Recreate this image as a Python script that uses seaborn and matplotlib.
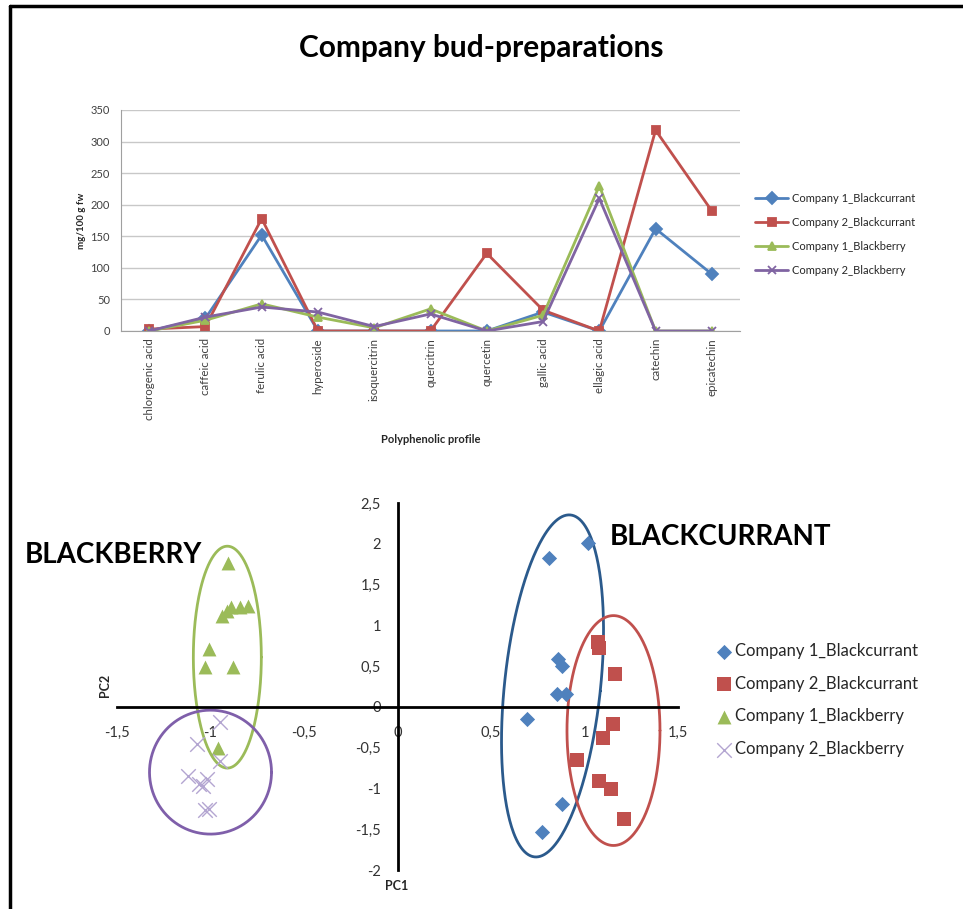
"""
Company bud-preparations: polyphenolic profile + PCA score plot
"""

import numpy as np
import pandas as pd
import matplotlib.pyplot as plt
import seaborn as sns
from matplotlib.lines import Line2D

sns.set_style("white")
plt.rcParams["font.family"] = ["Lato", "DejaVu Sans"]

# ============================================================================
# DATA
# ============================================================================
compounds = ["chlorogenic acid", "caffeic acid", "ferulic acid", "hyperoside",
             "isoquercitrin", "quercitrin", "quercetin", "gallic acid",
             "ellagic acid", "catechin", "epicatechin"]
series = ["Company 1_Blackcurrant", "Company 2_Blackcurrant",
          "Company 1_Blackberry", "Company 2_Blackberry"]

c1_blackcurrant = [0, 20, 152, 0, 0, 0, 0, 30, 0, 162, 90]
c2_blackcurrant = [3, 7, 178, 0, 0, 0, 123, 33, 0, 318, 190]
c1_blackberry = [0, 17, 43, 22, 5, 35, 0, 25, 230, 0, 0]
c2_blackberry = [0, 22, 38, 30, 7, 27, 0, 15, 210, 0, 0]

# PCA scores (PC1, PC2)
pc1_c1_bc = [1.02, 0.81, 0.86, 0.88, 0.855, 0.90, 0.695, 0.88, 0.775]
pc2_c1_bc = [2.01, 1.83, 0.59, 0.50, 0.16, 0.16, -0.15, -1.19, -1.54]
pc1_c2_bc = [1.07, 1.075, 1.165, 1.15, 1.10, 0.96, 1.08, 1.14, 1.21]
pc2_c2_bc = [0.79, 0.72, 0.40, -0.21, -0.38, -0.65, -0.91, -1.01, -1.37]
pc1_c1_bb = [-0.904, -0.94, -0.91, -0.89, -0.84, -0.80, -1.01, -1.03, -0.88, -0.96]
pc2_c1_bb = [1.76, 1.12, 1.18, 1.22, 1.23, 1.24, 0.71, 0.49, 0.49, -0.51]
pc1_c2_bb = [-0.95, -1.07, -0.95, -1.12, -1.06, -1.02, -1.04, -1.03, -1.01]
pc2_c2_bb = [-0.19, -0.45, -0.66, -0.85, -0.94, -0.88, -0.97, -1.27, -1.25]

colors = ["#4F81BD", "#C0504D", "#9BBB59", "#8064A2"]

fig = plt.figure(figsize=(9.63, 9.09), dpi=100)

# frame lines (left + top)
fig.add_artist(Line2D([10 / 963, 10 / 963], [0, 1 - 6 / 909], color="black", lw=2.5))
fig.add_artist(Line2D([10 / 963, 1], [1 - 6 / 909, 1 - 6 / 909], color="black", lw=2.5))

fig.text(481 / 963, 1 - 48 / 909, "Company bud-preparations", ha="center",
         va="center", fontsize=21.5, fontweight="bold", color="black")

# ============================================================================
# 1. LINE CHART
# ============================================================================
ax1 = fig.add_axes([121 / 963, 1 - 331 / 909, 619 / 963, 221 / 909])

df = pd.DataFrame({
    "pos": list(range(len(compounds))) * 4,
    "value": c1_blackcurrant + c2_blackcurrant + c1_blackberry + c2_blackberry,
    "series": np.repeat(series, len(compounds)),
})
line_markers = ["D", "s", "^", "x"]
for name, c, m in zip(series, colors, line_markers):
    sub = df[df["series"] == name]
    sns.lineplot(data=sub, x="pos", y="value", color=c, marker=m,
                 markersize=6, linewidth=2, markeredgewidth=1.3,
                 markeredgecolor=c, sort=False, label=name, ax=ax1)

ax1.set_xlim(-0.5, len(compounds) - 0.5)
ax1.set_ylim(0, 350)
ax1.set_yticks(range(0, 351, 50))
ax1.set_xticks(range(len(compounds)))
ax1.set_xticklabels(compounds, rotation=90, fontsize=8.3, color="#404040")
ax1.tick_params(axis="y", labelsize=8, colors="#404040", length=3, pad=5)
ax1.tick_params(axis="x", length=0, pad=5)
ax1.grid(axis="y", color="#C8C8C8", lw=1)
for s in ["top", "right"]:
    ax1.spines[s].set_visible(False)
for s in ["left", "bottom"]:
    ax1.spines[s].set_color("#A0A0A0")
ax1.set_xlabel("Polyphenolic profile", fontsize=8, fontweight="bold", labelpad=10)
ax1.set_ylabel("mg/100 g fw", fontsize=7, fontweight="bold", labelpad=3)
ax1.legend(loc="upper left", bbox_to_anchor=(745 / 963, 1 - 183 / 909),
           bbox_transform=fig.transFigure, frameon=False, fontsize=8,
           handlelength=3, handletextpad=0.3, labelspacing=1.17)

# ============================================================================
# 2. PCA SCORE PLOT
# ============================================================================
ax2 = fig.add_axes([117 / 963, 1 - 870 / 909, 561 / 963, 367 / 909])

groups = [
    (pc1_c1_bc, pc2_c1_bc, "D", 60, colors[0]),
    (pc1_c2_bc, pc2_c2_bc, "s", 110, colors[1]),
    (pc1_c1_bb, pc2_c1_bb, "^", 100, colors[2]),
    (pc1_c2_bb, pc2_c2_bb, "x", 110, "#B3A5D1"),
]
for (xs, ys, m, size, c), name in zip(groups, series):
    sns.scatterplot(x=xs, y=ys, marker=m, s=size, color=c, linewidth=1 if m == "x" else 0,
                    label=name, ax=ax2, zorder=3)

ax2.set_xlim(-1.5, 1.5)
ax2.set_ylim(-2, 2.5)
ax2.spines["left"].set_position("zero")
ax2.spines["bottom"].set_position("zero")
for s in ["top", "right"]:
    ax2.spines[s].set_visible(False)
for s in ["left", "bottom"]:
    ax2.spines[s].set_linewidth(2)
    ax2.spines[s].set_color("black")
ax2.set_xticks([-1.5, -1, -0.5, 0, 0.5, 1, 1.5])
ax2.set_xticklabels(["-1,5", "-1", "-0,5", "0", "0,5", "1", "1,5"])
ax2.set_yticks([-2, -1.5, -1, -0.5, 0, 0.5, 1, 1.5, 2, 2.5])
ax2.set_yticklabels(["-2", "-1,5", "-1", "-0,5", "0", "0,5", "1", "1,5", "2", "2,5"])
ax2.tick_params(labelsize=10.5, colors="#333333", length=0)
ax2.tick_params(axis="x", pad=14)
ax2.tick_params(axis="y", pad=12)

# group ellipses (radii in pixels, converted with the axis scale)
px_x, px_y = 187.0, 81.6
ellipses = [
    (-0.91, 0.61, 34, 111, 0, "#9BBB59"),
    (-1.00, -0.80, 61, 62, 0, "#7F5FAA"),
    (0.829, 0.257, 48, 172, -6, "#2B5A8C"),
    (1.155, -0.29, 46.5, 115, 0, "#C0504D"),
]
t = np.linspace(0, 2 * np.pi, 300)
for cx, cy, rx, ry, tilt, c in ellipses:
    a = np.deg2rad(tilt)
    ex = rx * np.cos(t) * np.cos(a) - ry * np.sin(t) * np.sin(a)
    ey = rx * np.cos(t) * np.sin(a) + ry * np.sin(t) * np.cos(a)
    ax2.plot(cx + ex / px_x, cy + ey / px_y, color=c, lw=2, zorder=2)

fig.text(105 / 963, 1 - 685 / 909, "PC2", rotation=90, ha="center", va="center",
         fontsize=9, fontweight="bold")
fig.text(397 / 963, 1 - 886 / 909, "PC1", ha="center", va="center",
         fontsize=9, fontweight="bold")
fig.text(25 / 963, 1 - 555 / 909, "BLACKBERRY", ha="left", va="center",
         fontsize=20, fontweight="bold", color="black")
fig.text(610 / 963, 1 - 537 / 909, "BLACKCURRANT", ha="left", va="center",
         fontsize=20, fontweight="bold", color="black")

ax2.legend(loc="upper left", bbox_to_anchor=(702 / 963, 1 - 628 / 909),
           bbox_transform=fig.transFigure, frameon=False, fontsize=12,
           handlelength=0.8, handletextpad=0.3, labelspacing=1.0)

plt.savefig("out.png", dpi=100)
